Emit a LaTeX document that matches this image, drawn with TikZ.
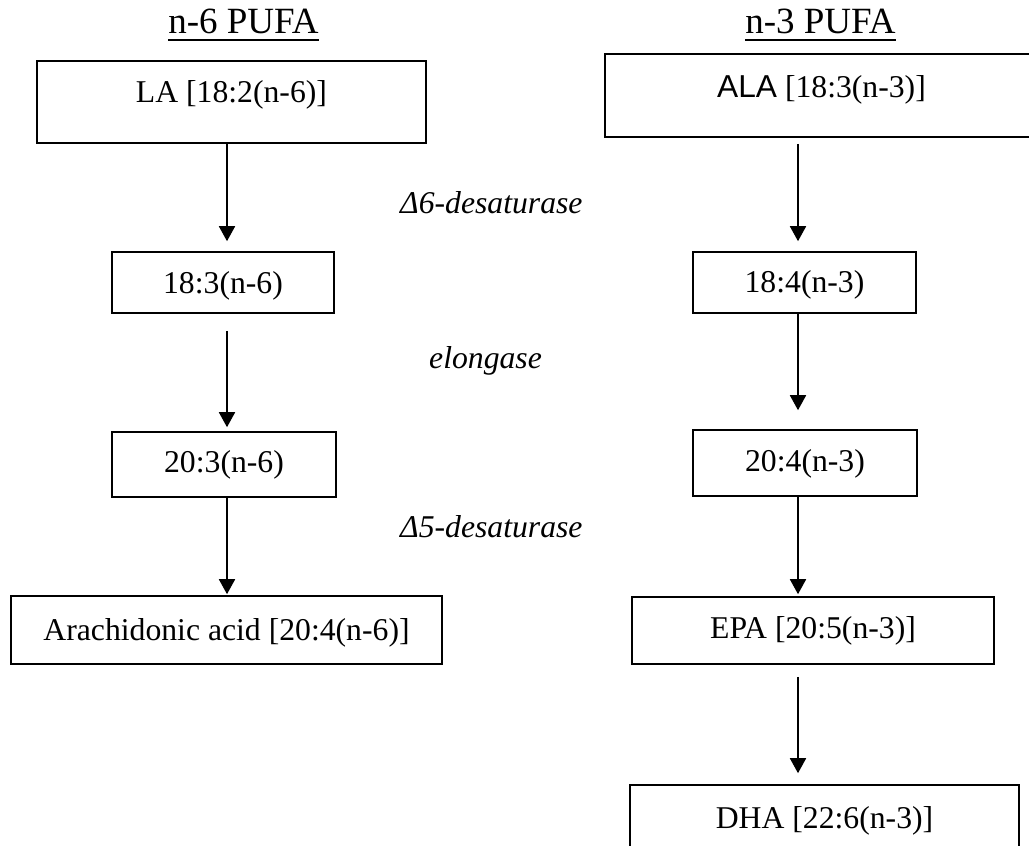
\documentclass[tikz,border=0pt]{standalone}
\usepackage{fontspec}
\setmainfont{Liberation Serif}
\newfontfamily\arialf{Liberation Sans}
\usetikzlibrary{arrows.meta}
\begin{document}
\begin{tikzpicture}[x=1pt,y=-1pt,
  box/.style={draw, line width=1.6pt, inner sep=0pt, font=\fontsize{31.7}{38}\selectfont},
  lbl/.style={font=\fontsize{31.7}{38}\selectfont\itshape, inner sep=0pt, anchor=base west},
  ttl/.style={font=\fontsize{37}{44}\selectfont, inner sep=0pt, anchor=base},
  uline/.style={line width=1.8pt},
  arr/.style={line width=1.8pt, -{Triangle[length=15pt,width=16pt]}}]
\useasboundingbox (0,0) rectangle (1029,846);
\clip (0,0) rectangle (1029,846);

% titles
\node[ttl] (T6) at (243.5,33) {n-6 PUFA};
\node[ttl] (T3) at (820.5,33) {n-3 PUFA};
\draw[uline] ([yshift=-7pt]T6.base west) -- ([yshift=-7pt]T6.base east);
\draw[uline] ([yshift=-7pt]T3.base west) -- ([yshift=-7pt]T3.base east);

% n-6 column
\node[box, minimum width=389pt, minimum height=82pt, text height=15pt, text depth=15pt] (LA) at (231.5,102) {LA [18:2(n-6)]};
\node[box, minimum width=222pt, minimum height=61pt, text height=25.5pt, text depth=4.5pt] (t183) at (223,282.5) {18:3(n-6)};
\node[box, minimum width=224pt, minimum height=65pt, text height=22.5pt, text depth=7.5pt] (t203) at (224,464.5) {20:3(n-6)};
\node[box, minimum width=431pt, minimum height=68pt, text height=25pt, text depth=5pt] (AA) at (226.5,630) {Arachidonic acid [20:4(n-6)]};

% n-3 column
\node[box, minimum width=433pt, minimum height=83pt, text height=16.5pt, text depth=13.5pt] (ALA) at (821.5,95.5) {{\arialf ALA} [18:3(n-3)]};
\node[box, minimum width=223pt, minimum height=61pt, text height=24.5pt, text depth=5.5pt] (t184) at (804.5,282.5) {18:4(n-3)};
\node[box, minimum width=224pt, minimum height=66pt, text height=23pt, text depth=7pt] (t204) at (805,463) {20:4(n-3)};
\node[box, minimum width=362pt, minimum height=67pt, text height=22.5pt, text depth=7.5pt] (EPA) at (813,630.5) {EPA [20:5(n-3)]};
\node[box, minimum width=389pt, minimum height=82pt, text height=17pt, text depth=13pt] (DHA) at (824.5,826) {DHA [22:6(n-3)]};

% enzyme labels
\node[lbl] (d6) at (400,213) {Δ6-desaturase};
\node[lbl] (el) at (429,368) {elongase};
\node[lbl] (d5) at (400,537) {Δ5-desaturase};

% arrows n-6
\draw[arr] ([xshift=-4.5pt]LA.south) -- ([xshift=4pt,yshift=10pt]t183.north);
\draw[arr] ([xshift=4pt,yshift=-17pt]t183.south) -- ([xshift=3pt,yshift=4pt]t203.north);
\draw[arr] ([xshift=3pt]t203.south) -- ([xshift=0.5pt,yshift=1pt]AA.north);

% arrows n-3
\draw[arr] ([xshift=-23.5pt,yshift=-6pt]ALA.south) -- ([xshift=-6.5pt,yshift=10pt]t184.north);
\draw[arr] ([xshift=-6.5pt]t184.south) -- ([xshift=-7pt,yshift=19pt]t204.north);
\draw[arr] ([xshift=-7pt]t204.south) -- ([xshift=-15pt,yshift=2pt]EPA.north);
\draw[arr] ([xshift=-15pt,yshift=-12pt]EPA.south) -- ([xshift=-26.5pt,yshift=11pt]DHA.north);
\end{tikzpicture}
\end{document}
